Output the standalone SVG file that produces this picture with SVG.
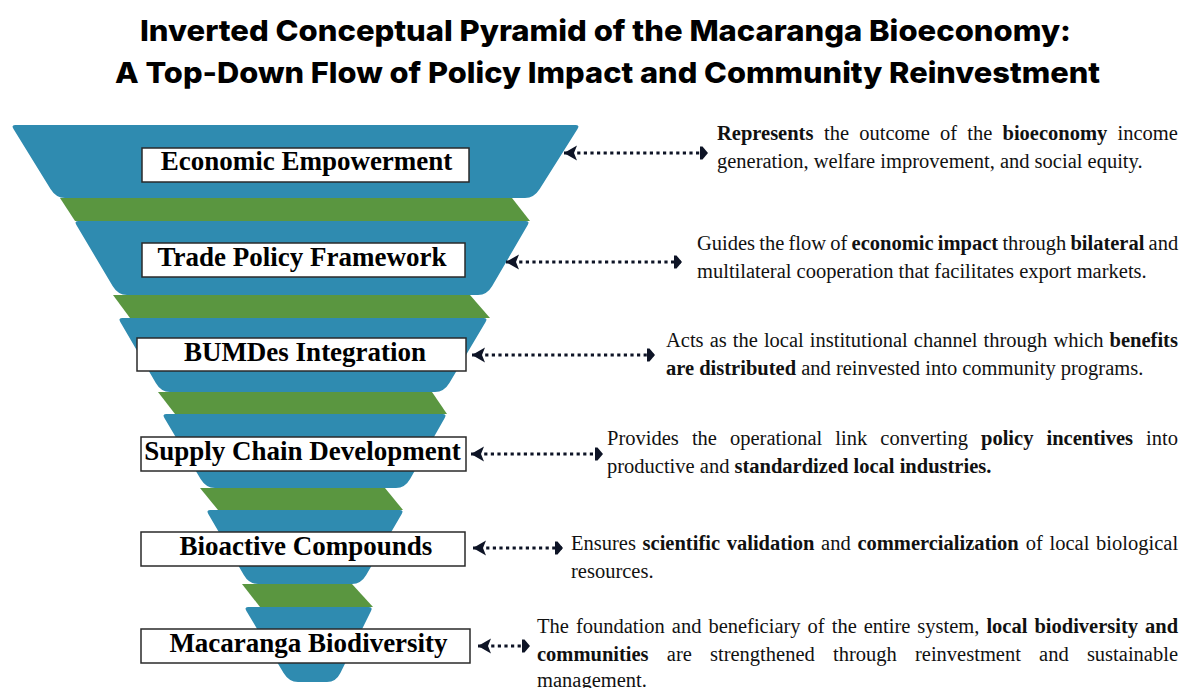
<svg xmlns="http://www.w3.org/2000/svg" width="1181" height="688" viewBox="0 0 1181 688">
  <style>
    .title { font-family: Inter, "Open Sans", "DejaVu Sans", sans-serif; font-weight: 800; font-size: 29px; fill: #000; }
    .layer { fill: #2f8bb0; }
    .band { fill: #5a9640; }
    .box { fill: #fff; stroke: #2a2a2a; stroke-width: 1.5; }
    .label { font-family: "Liberation Serif", "Times New Roman", serif; font-weight: 700; font-size: 27px; fill: #000; text-anchor: middle; }
    .desc { font-family: "Liberation Serif", "Times New Roman", serif; font-size: 20.5px; fill: #111; }
    .b { font-weight: 700; }
    .link { stroke: #0e1426; stroke-width: 3.2; stroke-dasharray: 3.2 3.4; fill: none; marker-start: url(#headL); marker-end: url(#headR); }
  </style>
  <defs>
    <marker id="headL" markerUnits="userSpaceOnUse" orient="auto" refX="0" refY="0" markerWidth="14" markerHeight="16" overflow="visible">
      <path d="M0,0 L13,-7.5 L10,0 L13,7.5 Z" fill="#0e1426"/>
    </marker>
    <marker id="headR" markerUnits="userSpaceOnUse" orient="auto" refX="0" refY="0" markerWidth="10" markerHeight="14" overflow="visible">
      <path d="M-8,-6.5 L-5.5,-6.5 L0,0 L-5.5,6.5 L-8,6.5 Z" fill="#0e1426"/>
    </marker>
  </defs>

  <rect width="1181" height="688" fill="#fff"/>

  <!-- heading -->
  <text class="title" x="605.5" y="41" text-anchor="middle" textLength="931" lengthAdjust="spacingAndGlyphs">Inverted Conceptual Pyramid of the Macaranga Bioeconomy:</text>
  <text class="title" x="607.5" y="83" text-anchor="middle" textLength="985" lengthAdjust="spacingAndGlyphs">A Top-Down Flow of Policy Impact and Community Reinvestment</text>

  <!-- green links between tiers -->
  <g id="bands">
    <polygon class="band" points="60,198 512,198 530,221 75,221"/>
    <polygon class="band" points="113,295 470,295 490,318 130,318"/>
    <polygon class="band" points="158,392 432,392 447,414 175,414"/>
    <polygon class="band" points="200,488 385,488 403,510 218,510"/>
    <polygon class="band" points="242,584 352,584 373,607 260,607"/>
  </g>

  <g id="economic-empowerment">
    <path class="layer" d="M15,125 L576,125 Q580,125 577.5,129 L539.7,189 Q534,198 525,198 L65,198 Q56,198 50.5,189 L13.5,129 Q11,125 15,125 Z"/>
    <rect class="box" x="142" y="148" width="327" height="34"/>
    <text class="label" x="306.5" y="170">Economic Empowerment</text>
  </g>

  <g id="trade-policy-framework">
    <path class="layer" d="M78,221 L526,221 Q530,221 527.7,225 L492.2,286 Q487,295 478,295 L127,295 Q118,295 112.6,286 L76.4,225 Q74,221 78,221 Z"/>
    <rect class="box" x="142" y="243" width="323" height="34"/>
    <text class="label" x="302" y="266">Trade Policy Framework</text>
  </g>

  <g id="bumdes-integration">
    <path class="layer" d="M122,318 L484,318 Q488,318 485.6,322 L449.4,383 Q444,392 435,392 L170,392 Q161,392 155.8,383 L120.3,322 Q118,318 122,318 Z"/>
    <rect class="box" x="137" y="338" width="329" height="33"/>
    <text class="label" x="305" y="361">BUMDes Integration</text>
  </g>

  <g id="supply-chain-development">
    <path class="layer" d="M166,414 L443,414 Q447,414 444.7,418 L410.1,479 Q405,488 396,488 L215,488 Q206,488 200.6,479 L164.4,418 Q162,414 166,414 Z"/>
    <rect class="box" x="141" y="437" width="325" height="34"/>
    <text class="label" x="302.5" y="460">Supply Chain Development</text>
  </g>

  <g id="bioactive-compounds">
    <path class="layer" d="M210,510 L400,510 Q404,510 401.7,514 L366.2,575 Q361,584 352,584 L258,584 Q249,584 243.8,575 L208.3,514 Q206,510 210,510 Z"/>
    <rect class="box" x="141" y="532" width="324" height="34"/>
    <text class="label" x="306" y="555">Bioactive Compounds</text>
  </g>

  <g id="macaranga-biodiversity">
    <path class="layer" d="M248,607 L369,607 Q373,607 371,611 L340.4,673 Q336,682 327,682 L298,682 Q289,682 283.6,673 L246.4,611 Q244,607 248,607 Z"/>
    <rect class="box" x="141" y="629" width="329" height="34"/>
    <text class="label" x="308.5" y="652">Macaranga Biodiversity</text>
  </g>

  <!-- dotted two-way connectors from each tier to its note -->
  <g id="connectors">
    <line class="link" x1="564" y1="153" x2="708" y2="153"/>
    <line class="link" x1="506" y1="262" x2="682" y2="262"/>
    <line class="link" x1="472" y1="355" x2="655" y2="355"/>
    <line class="link" x1="471" y1="454" x2="603" y2="454"/>
    <line class="link" x1="473" y1="548" x2="563" y2="548"/>
    <line class="link" x1="478" y1="646" x2="530" y2="646"/>
  </g>

  <!-- notes (justified lines set word by word) -->
  <g id="notes" class="desc">
    <text y="140"><tspan x="717" class="b">Represents</tspan><tspan x="824">the</tspan><tspan x="859.2">outcome</tspan><tspan x="940">of</tspan><tspan x="967.3">the</tspan><tspan x="1002.5" class="b">bioeconomy</tspan><tspan x="1117.5">income</tspan></text>
    <text x="717" y="168">generation, welfare improvement, and social equity.</text>

    <text y="250"><tspan x="697">Guides</tspan><tspan x="759.3">the</tspan><tspan x="788.5">flow</tspan><tspan x="830.3">of</tspan><tspan x="851.6" class="b">economic</tspan><tspan x="937.8" class="b">impact</tspan><tspan x="1002.4">through</tspan><tspan x="1070.4" class="b">bilateral</tspan><tspan x="1148.6">and</tspan></text>
    <text x="697" y="278">multilateral cooperation that facilitates export markets.</text>

    <text y="347"><tspan x="666">Acts</tspan><tspan x="709.7">as</tspan><tspan x="732.8">the</tspan><tspan x="763.9">local</tspan><tspan x="809.8">institutional</tspan><tspan x="913.8">channel</tspan><tspan x="983.6">through</tspan><tspan x="1053.5">which</tspan><tspan x="1109.6" class="b">benefits</tspan></text>
    <text x="666" y="375"><tspan class="b">are distributed</tspan> and reinvested into community programs.</text>

    <text y="445"><tspan x="607">Provides</tspan><tspan x="691.9">the</tspan><tspan x="730">operational</tspan><tspan x="835.3">link</tspan><tspan x="880.3">converting</tspan><tspan x="981" class="b">policy</tspan><tspan x="1046.5" class="b">incentives</tspan><tspan x="1146.1">into</tspan></text>
    <text x="607" y="473">productive and <tspan class="b">standardized local industries.</tspan></text>

    <text y="550"><tspan x="571">Ensures</tspan><tspan x="642.6" class="b">scientific</tspan><tspan x="726.7" class="b">validation</tspan><tspan x="821.1">and</tspan><tspan x="857.4" class="b">commercialization</tspan><tspan x="1025.7">of</tspan><tspan x="1049.5">local</tspan><tspan x="1096.1">biological</tspan></text>
    <text x="571" y="578">resources.</text>

    <text y="633"><tspan x="537">The</tspan><tspan x="575.9">foundation</tspan><tspan x="671.8">and</tspan><tspan x="708.4">beneficiary</tspan><tspan x="807.6">of</tspan><tspan x="831.7">the</tspan><tspan x="863.7">entire</tspan><tspan x="917.3">system,</tspan><tspan x="986.4" class="b">local</tspan><tspan x="1034.4" class="b">biodiversity</tspan><tspan x="1145" class="b">and</tspan></text>
    <text y="661"><tspan x="537" class="b">communities</tspan><tspan x="666.8">are</tspan><tspan x="710">strengthened</tspan><tspan x="833">through</tspan><tspan x="915">reinvestment</tspan><tspan x="1039.1">and</tspan><tspan x="1086.9">sustainable</tspan></text>
    <text x="537" y="687">management.</text>
  </g>
</svg>
